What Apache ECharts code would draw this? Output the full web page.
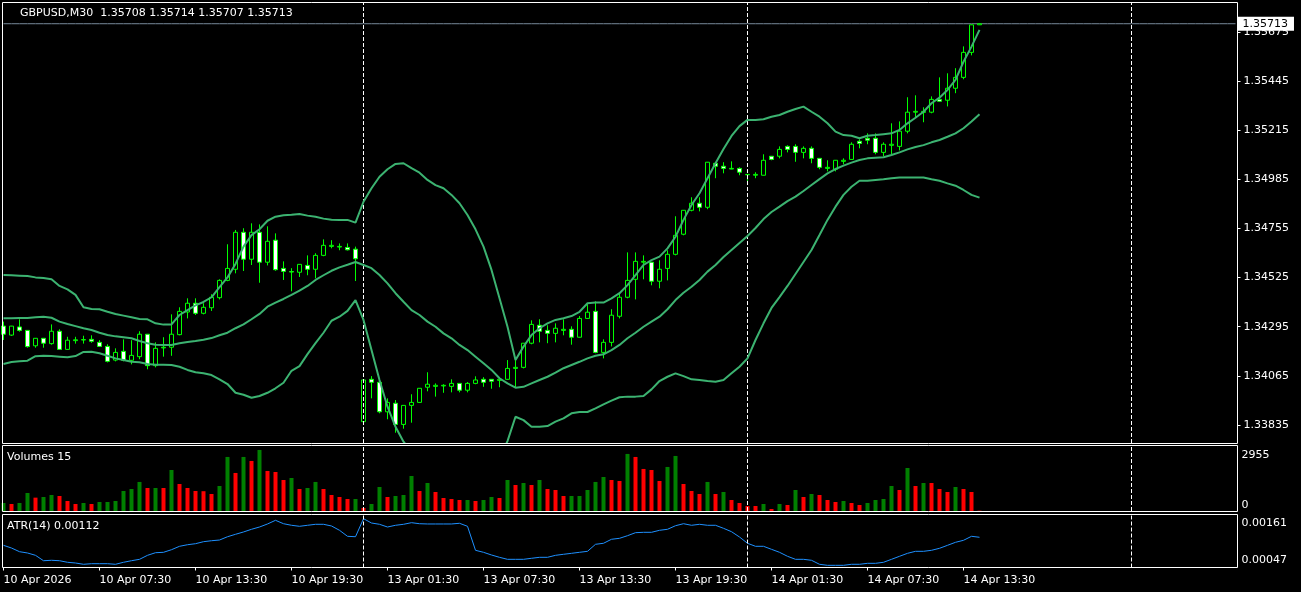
<!DOCTYPE html>
<html><head><meta charset="utf-8">
<script src="https://cdn.jsdelivr.net/npm/echarts@6/dist/echarts.min.js"></script>
<style>html,body{margin:0;padding:0;background:#000;}#c{width:1301px;height:592px;}</style>
</head><body><div id="c"></div>
<script>
const SYMBOL = 'GBPUSD';
const TIMEFRAME = 'M30';
const ATR_PERIOD = 14;
const TICK_LABELS = ['10 Apr 2026','10 Apr 07:30','10 Apr 13:30','10 Apr 19:30','13 Apr 01:30','13 Apr 07:30','13 Apr 13:30','13 Apr 19:30','14 Apr 01:30','14 Apr 07:30','14 Apr 13:30'];
const PRICE_TICKS = [1.33835,1.34065,1.34295,1.34525,1.34755,1.34985,1.35215,1.35445,1.35675];
const PRICE_MIN = 1.33751, PRICE_MAX = 1.35810;
const VOL_MAX = 2955;
const ATR_MIN = 0.00047, ATR_MAX = 0.00161;
const LAST_PRICE = 1.35713;
const SEPARATOR_IDX = [45, 93, 141];
const SLOT_COUNT = 155;

const OPEN = [1.34298,1.34256,1.34294,1.34278,1.34206,1.34241,1.34216,1.34274,1.34189,1.34230,
1.34233,1.34236,1.34222,1.34203,1.34139,1.34180,1.34138,1.34155,1.34260,1.34113,
1.34196,1.34199,1.34258,1.34364,1.34405,1.34358,1.34384,1.34431,1.34512,1.34564,
1.34737,1.34611,1.34737,1.34597,1.34700,1.34568,1.34553,1.34550,1.34582,1.34564,
1.34629,1.34671,1.34668,1.34666,1.34658,1.33851,1.34049,1.34035,1.33897,1.33937,
1.33838,1.33927,1.33941,1.34012,1.34016,1.34018,1.34016,1.34030,1.33998,1.34030,
1.34049,1.34049,1.34044,1.34049,1.34100,1.34105,1.34218,1.34302,1.34278,1.34264,
1.34278,1.34283,1.34246,1.34334,1.34367,1.34175,1.34222,1.34344,1.34433,1.34517,
1.34597,1.34597,1.34508,1.34568,1.34634,1.34728,1.34840,1.34873,1.34854,1.35060,
1.35046,1.35033,1.35036,1.35006,1.35004,1.35004,1.35093,1.35093,1.35139,1.35139,
1.35111,1.35130,1.35083,1.35036,1.35032,1.35069,1.35078,1.35163,1.35177,1.35177,
1.35111,1.35144,1.35139,1.35210,1.35299,1.35298,1.35299,1.35359,1.35355,1.35411,
1.35462,1.35579,1.35708];
const CLOSE = [1.34260,1.34298,1.34278,1.34202,1.34241,1.34218,1.34274,1.34189,1.34232,1.34234,
1.34235,1.34227,1.34203,1.34133,1.34175,1.34138,1.34161,1.34260,1.34113,1.34194,
1.34199,1.34260,1.34367,1.34405,1.34358,1.34386,1.34433,1.34512,1.34568,1.34737,
1.34611,1.34737,1.34597,1.34695,1.34562,1.34554,1.34551,1.34587,1.34564,1.34629,
1.34676,1.34676,1.34671,1.34655,1.34613,1.34046,1.34035,1.33897,1.33941,1.33838,
1.33927,1.33941,1.34007,1.34026,1.34021,1.34021,1.34030,1.33998,1.34030,1.34046,
1.34035,1.34040,1.34049,1.34100,1.34105,1.34218,1.34306,1.34274,1.34264,1.34288,
1.34283,1.34246,1.34334,1.34363,1.34175,1.34222,1.34349,1.34433,1.34512,1.34601,
1.34601,1.34508,1.34564,1.34634,1.34723,1.34840,1.34873,1.34854,1.35065,1.35046,
1.35036,1.35036,1.35018,1.35008,1.35008,1.35074,1.35078,1.35125,1.35125,1.35111,
1.35130,1.35083,1.35041,1.35041,1.35074,1.35074,1.35149,1.35153,1.35168,1.35111,
1.35149,1.35149,1.35210,1.35299,1.35303,1.35303,1.35359,1.35350,1.35411,1.35462,
1.35579,1.35708,1.35713];
const LOW = [1.34233,1.34252,1.34272,1.34197,1.34197,1.34197,1.34211,1.34188,1.34188,1.34216,
1.34216,1.34220,1.34201,1.34128,1.34133,1.34133,1.34119,1.34143,1.34096,1.34105,
1.34155,1.34159,1.34255,1.34334,1.34350,1.34353,1.34369,1.34423,1.34508,1.34545,
1.34556,1.34584,1.34501,1.34582,1.34557,1.34514,1.34461,1.34528,1.34536,1.34522,
1.34625,1.34662,1.34653,1.34652,1.34509,1.33849,1.33960,1.33890,1.33862,1.33799,
1.33818,1.33846,1.33939,1.33993,1.33968,1.33986,1.33988,1.33988,1.33988,1.34026,
1.34014,1.34005,1.34012,1.34048,1.34012,1.34100,1.34213,1.34222,1.34218,1.34222,
1.34255,1.34211,1.34245,1.34333,1.34171,1.34147,1.34203,1.34334,1.34428,1.34423,
1.34517,1.34489,1.34475,1.34512,1.34629,1.34723,1.34835,1.34835,1.34845,1.34990,
1.35013,1.35032,1.35004,1.34962,1.34990,1.35003,1.35074,1.35083,1.35111,1.35067,
1.35083,1.35060,1.35032,1.35022,1.35022,1.35055,1.35077,1.35130,1.35149,1.35102,
1.35093,1.35102,1.35120,1.35200,1.35275,1.35252,1.35294,1.35349,1.35326,1.35388,
1.35453,1.35565,1.35707];
const HIGH = [1.34319,1.34299,1.34330,1.34279,1.34242,1.34242,1.34306,1.34283,1.34248,1.34248,
1.34253,1.34255,1.34232,1.34213,1.34194,1.34236,1.34232,1.34274,1.34261,1.34222,
1.34246,1.34353,1.34386,1.34428,1.34428,1.34405,1.34447,1.34517,1.34681,1.34748,
1.34756,1.34779,1.34774,1.34765,1.34732,1.34601,1.34569,1.34588,1.34629,1.34639,
1.34704,1.34700,1.34685,1.34685,1.34670,1.34048,1.34064,1.34036,1.33960,1.33952,
1.33928,1.33979,1.34008,1.34082,1.34030,1.34026,1.34049,1.34031,1.34036,1.34063,
1.34059,1.34050,1.34054,1.34139,1.34139,1.34219,1.34325,1.34330,1.34302,1.34311,
1.34330,1.34297,1.34345,1.34400,1.34414,1.34236,1.34377,1.34452,1.34643,1.34643,
1.34629,1.34598,1.34606,1.34653,1.34812,1.34841,1.34901,1.34901,1.35066,1.35065,
1.35065,1.35069,1.35041,1.35009,1.35018,1.35102,1.35094,1.35139,1.35144,1.35149,
1.35139,1.35139,1.35084,1.35074,1.35075,1.35083,1.35158,1.35172,1.35200,1.35200,
1.35158,1.35247,1.35256,1.35369,1.35378,1.35322,1.35373,1.35462,1.35481,1.35505,
1.35607,1.35710,1.35714];

const BB_UPPER = [1.34537,1.34536,1.34534,1.34532,1.34526,1.34523,1.34517,1.34486,1.34470,1.34444,
1.34386,1.34378,1.34377,1.34365,1.34355,1.34347,1.34339,1.34331,1.34330,1.34311,
1.34305,1.34306,1.34350,1.34373,1.34395,1.34411,1.34433,1.34480,1.34526,1.34589,
1.34670,1.34724,1.34751,1.34791,1.34810,1.34817,1.34819,1.34823,1.34815,1.34810,
1.34801,1.34796,1.34795,1.34795,1.34782,1.34880,1.34943,1.34997,1.35032,1.35057,
1.35060,1.35037,1.35016,1.34982,1.34958,1.34943,1.34912,1.34873,1.34818,1.34751,
1.34670,1.34561,1.34428,1.34295,1.34139,1.34202,1.34256,1.34288,1.34311,1.34327,
1.34335,1.34345,1.34365,1.34405,1.34408,1.34408,1.34428,1.34452,1.34490,1.34537,
1.34584,1.34607,1.34623,1.34662,1.34716,1.34795,1.34865,1.34920,1.34990,1.35060,
1.35127,1.35188,1.35234,1.35263,1.35263,1.35266,1.35278,1.35286,1.35301,1.35314,
1.35325,1.35301,1.35278,1.35247,1.35208,1.35192,1.35189,1.35177,1.35189,1.35192,
1.35196,1.35200,1.35216,1.35247,1.35273,1.35301,1.35341,1.35367,1.35403,1.35450,
1.35535,1.35606,1.35684];
const BB_MIDDLE = [1.34335,1.34335,1.34336,1.34336,1.34339,1.34342,1.34337,1.34319,1.34308,1.34298,
1.34288,1.34280,1.34267,1.34256,1.34250,1.34246,1.34241,1.34228,1.34218,1.34211,
1.34210,1.34210,1.34218,1.34224,1.34228,1.34234,1.34242,1.34255,1.34267,1.34288,
1.34306,1.34330,1.34355,1.34389,1.34408,1.34425,1.34444,1.34464,1.34486,1.34514,
1.34536,1.34557,1.34573,1.34585,1.34598,1.34584,1.34569,1.34537,1.34498,1.34452,
1.34412,1.34373,1.34350,1.34319,1.34295,1.34264,1.34241,1.34210,1.34186,1.34155,
1.34124,1.34093,1.34054,1.34030,1.34010,1.34014,1.34030,1.34046,1.34061,1.34080,
1.34101,1.34116,1.34131,1.34147,1.34159,1.34166,1.34186,1.34210,1.34241,1.34267,
1.34295,1.34319,1.34342,1.34377,1.34420,1.34454,1.34482,1.34514,1.34553,1.34584,
1.34621,1.34654,1.34687,1.34720,1.34757,1.34799,1.34832,1.34857,1.34883,1.34904,
1.34930,1.34958,1.34986,1.35013,1.35033,1.35049,1.35063,1.35075,1.35083,1.35086,
1.35088,1.35099,1.35111,1.35125,1.35136,1.35145,1.35158,1.35169,1.35184,1.35200,
1.35224,1.35255,1.35289];
const BB_LOWER = [1.34121,1.34130,1.34133,1.34136,1.34157,1.34159,1.34158,1.34155,1.34152,1.34158,
1.34177,1.34178,1.34171,1.34159,1.34147,1.34139,1.34131,1.34129,1.34121,1.34117,
1.34117,1.34116,1.34108,1.34093,1.34082,1.34077,1.34069,1.34049,1.34027,1.33986,
1.33977,1.33963,1.33971,1.33986,1.34007,1.34033,1.34089,1.34111,1.34167,1.34218,
1.34267,1.34323,1.34342,1.34369,1.34420,1.34327,1.34186,1.34046,1.33921,1.33827,
1.33757,1.33710,1.33684,1.33655,1.33632,1.33586,1.33570,1.33546,1.33554,1.33558,
1.33578,1.33624,1.33679,1.33760,1.33874,1.33858,1.33827,1.33827,1.33830,1.33851,
1.33866,1.33890,1.33896,1.33896,1.33913,1.33932,1.33949,1.33965,1.33968,1.33968,
1.33971,1.34002,1.34041,1.34061,1.34077,1.34064,1.34049,1.34046,1.34041,1.34038,
1.34046,1.34077,1.34108,1.34147,1.34233,1.34311,1.34383,1.34434,1.34486,1.34542,
1.34598,1.34654,1.34724,1.34795,1.34857,1.34912,1.34950,1.34978,1.34978,1.34982,
1.34985,1.34990,1.34993,1.34993,1.34993,1.34993,1.34985,1.34978,1.34966,1.34955,
1.34935,1.34912,1.34899];

const VOLUME = [364,318,364,819,607,637,728,682,455,318,
364,318,410,410,455,910,1001,1320,1046,1046,
1046,1865,1228,1046,910,900,773,1137,2457,1729,
2457,2275,2775,1820,1774,1410,1501,1001,1046,1320,
1001,728,637,546,546,136,318,1092,637,682,
728,1592,910,1274,864,592,546,500,500,455,
500,637,592,1410,1183,1274,1183,1410,1001,955,
682,682,682,955,1320,1547,1410,1365,2594,2457,
1911,1865,1365,2002,2502,1228,910,773,1320,773,
864,500,364,228,228,318,91,318,273,955,
637,773,728,500,410,455,364,273,364,500,
546,1137,955,1956,1137,1274,1274,1001,864,1092,
1001,864,15];
// U = volume rose vs previous bar (green), D = fell (red)
const VOL_DIR = ('UDUUDUUDDD' + 'UDUUUUUUDU' + 'DUDDDDDUUD' + 'UDUDDDUDUU' + 'DDDDUDUUDU' +
 'UUDUDDDDUD' + 'UUDUDUDUDD' + 'DUUUUUDDUD' + 'DDDUUDDDUD' + 'UDDDDUDUDU' +
 'DUDDDUDDUU' + 'UUDUDUDDDU' + 'DDD').split('');

const ATR = [0.000947,0.000889,0.000810,0.000782,0.000732,0.000616,0.000625,0.000616,0.000582,0.000567,
0.000539,0.000552,0.000552,0.000552,0.000539,0.000582,0.000616,0.000646,0.000732,0.000788,
0.000797,0.000853,0.000926,0.000960,0.000982,0.001025,0.001046,0.001061,0.001132,0.001184,
0.001234,0.001292,0.001341,0.001406,0.001485,0.001412,0.001378,0.001356,0.001378,0.001399,
0.001399,0.001363,0.001270,0.001141,0.001132,0.001520,0.001427,0.001399,0.001341,0.001378,
0.001399,0.001434,0.001412,0.001406,0.001406,0.001406,0.001406,0.001421,0.001356,0.000840,
0.000797,0.000739,0.000689,0.000646,0.000646,0.000646,0.000668,0.000689,0.000689,0.000732,
0.000754,0.000775,0.000797,0.000818,0.000969,0.000991,0.001077,0.001098,0.001154,0.001219,
0.001227,0.001227,0.001270,0.001292,0.001369,0.001412,0.001378,0.001399,0.001378,0.001378,
0.001313,0.001240,0.001126,0.000991,0.000926,0.000926,0.000861,0.000797,0.000711,0.000646,
0.000646,0.000625,0.000539,0.000517,0.000517,0.000517,0.000539,0.000539,0.000560,0.000560,
0.000582,0.000646,0.000711,0.000775,0.000818,0.000818,0.000840,0.000883,0.000947,0.001012,
0.001055,0.001141,0.00112];

// time slot names: 10 Apr from 01:30, then 13 Apr 00:00 onward (weekend skipped)
function buildCategories(n) {
  const out = [];
  for (let i = 0; i < n; i++) {
    let day, mins;
    if (i < 45) { day = 10; mins = 90 + 30 * i; }
    else { const j = i - 45; day = 13 + Math.floor(j / 48); mins = (j % 48) * 30; }
    out.push(day + ' Apr ' + String(Math.floor(mins / 60)).padStart(2, '0') + ':' + String(mins % 60).padStart(2, '0'));
  }
  return out;
}
const CATEGORIES = buildCategories(SLOT_COUNT);

const FONT = 'DejaVu Sans';
const TXT = '#ffffff';
const last = OPEN.length - 1;
const f5 = v => v.toFixed(5);

const candleData = OPEN.map((o, i) => [o, CLOSE[i], LOW[i], HIGH[i]]);
const volData = VOLUME.map((v, i) => ({ value: v, itemStyle: { color: VOL_DIR[i] === 'U' ? '#008000' : '#ff0000' } }));
const bidLine = CATEGORIES.map(() => LAST_PRICE);

const sepLines = SEPARATOR_IDX.map(i => ({
  xAxis: CATEGORIES[i],
  lineStyle: { color: '#ffffff', type: [4, 2], width: 1 },
  label: { show: false }
}));

const tickInterval = (idx) => idx % 12 === 0 && idx / 12 < TICK_LABELS.length;

const lbl = { color: TXT, fontSize: 11, fontFamily: FONT };
const titleStyle = { color: TXT, fontSize: 11, fontWeight: 'normal', fontFamily: FONT };

const gridL = 3.5, gridW = 1232;

const option = {
  backgroundColor: '#000000',
  animation: false,
  textStyle: { fontFamily: FONT },
  title: [
    { text: `${SYMBOL},${TIMEFRAME}  ${f5(OPEN[last])} ${f5(HIGH[last])} ${f5(LOW[last])} ${f5(CLOSE[last])}`, left: 20, top: 8, padding: 0, textStyle: titleStyle },
    { text: 'Volumes ' + VOLUME[last], left: 7, top: 452, padding: 0, textStyle: titleStyle },
    { text: 'ATR(' + ATR_PERIOD + ') ' + f5(ATR[last]), left: 7, top: 521, padding: 0, textStyle: titleStyle }
  ],
  grid: [
    { left: gridL, top: 3, width: gridW, height: 440 },
    { left: gridL, top: 446, width: gridW, height: 65 },
    { left: gridL, top: 514.5, width: gridW, height: 53 }
  ],
  xAxis: [
    { gridIndex: 0, type: 'category', data: CATEGORIES, boundaryGap: false, show: false },
    { gridIndex: 1, type: 'category', data: CATEGORIES, boundaryGap: false, show: false },
    { gridIndex: 2, type: 'category', data: CATEGORIES, boundaryGap: false,
      axisLine: { show: false },
      axisTick: { show: true, length: 3, interval: tickInterval, lineStyle: { color: '#ffffff' } },
      axisLabel: Object.assign({ interval: tickInterval, align: 'left', margin: 7,
        formatter: (v, idx) => (idx % 12 === 0 && TICK_LABELS[idx / 12]) ? TICK_LABELS[idx / 12] : '' }, lbl),
      splitLine: { show: false } }
  ],
  yAxis: [
    { gridIndex: 0, type: 'value', position: 'right', offset: 2, min: PRICE_MIN, max: PRICE_MAX, scale: true,
      splitLine: { show: false }, axisLine: { show: false },
      axisTick: { show: true, length: 3, customValues: PRICE_TICKS, lineStyle: { color: '#ffffff' } },
      axisLabel: Object.assign({ customValues: PRICE_TICKS, formatter: v => f5(v), margin: 6 }, lbl) },
    { gridIndex: 1, type: 'value', position: 'right', offset: 2, min: 0, max: VOL_MAX,
      splitLine: { show: false }, axisLine: { show: false }, axisTick: { show: false },
      axisLabel: Object.assign({ customValues: [0, VOL_MAX], margin: 4,
        formatter: v => v === VOL_MAX ? '{t|' + v + '}' : '{b|' + v + '}',
        rich: { t: Object.assign({ padding: [18, 0, 0, 0] }, lbl), b: Object.assign({ padding: [0, 0, 12, 0] }, lbl) } }, lbl) },
    { gridIndex: 2, type: 'value', position: 'right', offset: 2, min: ATR_MIN, max: ATR_MAX,
      splitLine: { show: false }, axisLine: { show: false }, axisTick: { show: false },
      axisLabel: Object.assign({ customValues: [ATR_MIN, ATR_MAX], margin: 4,
        formatter: v => Math.abs(v - ATR_MAX) < 1e-9 ? '{t|' + f5(v) + '}' : '{b|' + f5(v) + '}',
        rich: { t: Object.assign({ padding: [18, 0, 0, 0] }, lbl), b: Object.assign({ padding: [0, 0, 15, 0] }, lbl) } }, lbl) }
  ],
  series: [
    { name: 'Bid', type: 'line', xAxisIndex: 0, yAxisIndex: 0, data: bidLine, showSymbol: false, silent: true,
      lineStyle: { color: '#778899', width: 1 }, z: 3,
      endLabel: { show: true, formatter: () => f5(LAST_PRICE), distance: 2, color: '#000000', backgroundColor: '#ffffff',
        padding: [2, 6, 1, 5], fontSize: 11, fontFamily: FONT } },
    { name: SYMBOL, type: 'candlestick', xAxisIndex: 0, yAxisIndex: 0, data: candleData, barWidth: 4, z: 4,
      itemStyle: { color: '#000000', color0: '#ffffff', borderColor: '#00ff00', borderColor0: '#00ff00', borderWidth: 1 },
      markLine: { symbol: ['none', 'none'], silent: true, animation: false, data: sepLines } },
    { name: 'BB upper', type: 'line', xAxisIndex: 0, yAxisIndex: 0, data: BB_UPPER, showSymbol: false, z: 5, lineStyle: { color: '#3CB371', width: 2 } },
    { name: 'BB middle', type: 'line', xAxisIndex: 0, yAxisIndex: 0, data: BB_MIDDLE, showSymbol: false, z: 5, lineStyle: { color: '#3CB371', width: 2 } },
    { name: 'BB lower', type: 'line', xAxisIndex: 0, yAxisIndex: 0, data: BB_LOWER, showSymbol: false, z: 5, lineStyle: { color: '#3CB371', width: 2 } },
    { name: 'Volumes', type: 'bar', xAxisIndex: 1, yAxisIndex: 1, data: volData, barWidth: 4,
      markLine: { symbol: ['none', 'none'], silent: true, animation: false, data: sepLines } },
    { name: 'ATR', type: 'line', xAxisIndex: 2, yAxisIndex: 2, data: ATR, showSymbol: false, lineStyle: { color: '#1E90FF', width: 1 },
      markLine: { symbol: ['none', 'none'], silent: true, animation: false, data: sepLines } }
  ],
  graphic: [
    { type: 'rect', silent: true, z: 100, shape: { x: 2.5, y: 2.5, width: 1235, height: 441 }, style: { fill: 'transparent', stroke: '#ffffff', lineWidth: 1 } },
    { type: 'rect', silent: true, z: 100, shape: { x: 2.5, y: 445.5, width: 1235, height: 66 }, style: { fill: 'transparent', stroke: '#ffffff', lineWidth: 1 } },
    { type: 'rect', silent: true, z: 100, shape: { x: 2.5, y: 514.5, width: 1235, height: 53 }, style: { fill: 'transparent', stroke: '#ffffff', lineWidth: 1 } }
  ]
};

const chart = echarts.init(document.getElementById('c'), null, { renderer: 'canvas' });
chart.setOption(option);
</script></body></html>
